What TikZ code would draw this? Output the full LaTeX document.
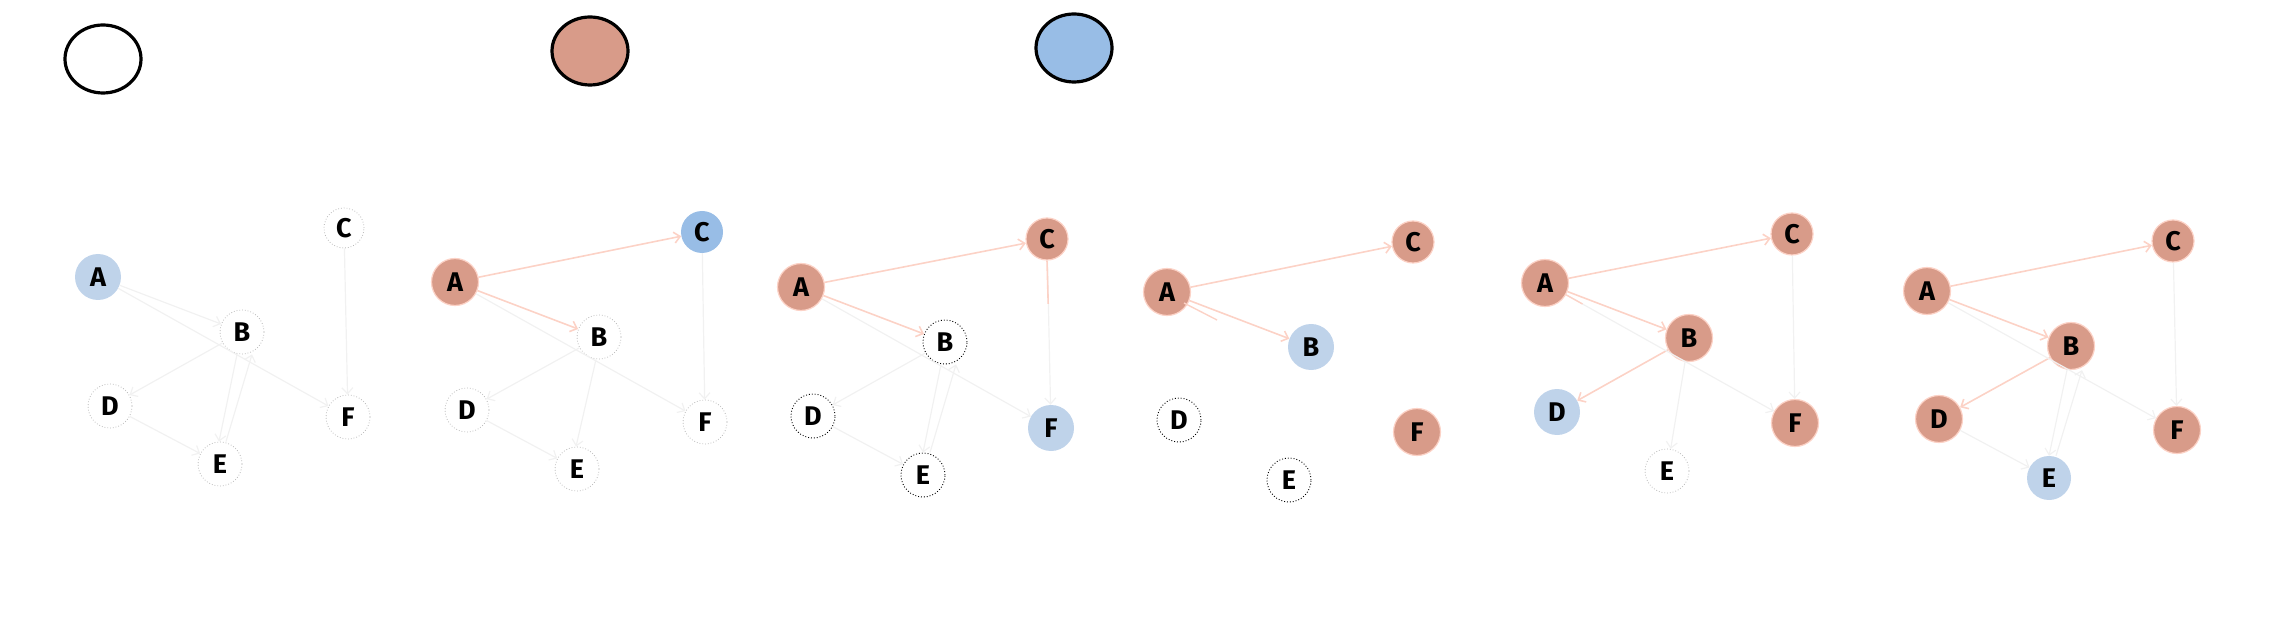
\documentclass[tikz,border=0pt]{standalone}
\usepackage{fontspec}
\setmainfont{Fira Sans}
\usetikzlibrary{arrows.meta,shapes.geometric,calc}
\definecolor{pinkfill}{HTML}{D89B89}
\definecolor{pinkline}{HTML}{FCD2C6}
\definecolor{bluefill}{HTML}{98BDE6}
\definecolor{lblue}{HTML}{BFD3EA}
\definecolor{faint}{HTML}{F1F1F1}
\tikzset{
  nd/.style={circle,minimum size=44pt,inner sep=0pt,font=\fontsize{27}{28}\selectfont\bfseries},
  wn/.style={nd,draw=gray!55,dotted,line width=0.8pt},
  wnb/.style={nd,draw=black,dotted,line width=0.9pt},
  pn/.style={nd,fill=pinkfill,draw=pinkline,line width=1.2pt,minimum size=47pt},
  bn/.style={nd,fill=lblue,minimum size=46pt},
  cn/.style={nd,fill=bluefill,minimum size=42pt},
  arr/.style={-{Straight Barb[length=6pt,width=11pt]}},
  pe/.style={arr,draw=pinkline,line width=1.6pt},
  fe/.style={arr,draw=faint,line width=1.2pt},
  legend/.style={ellipse,draw=black,line width=3.2pt,minimum width=76pt,minimum height=68pt,inner sep=0pt}
}
\begin{document}
\begin{tikzpicture}[x=1pt,y=-1pt]
\path[use as bounding box] (0,0) rectangle (2290,617);
% legend
\node[legend,fill=white] (L1) at (103,59) {};
\node[legend,fill=pinkfill] (L2) at (590,51) {};
\node[legend,fill=bluefill] (L3) at (1074,48) {};

% panel 1
\node[bn] (a1) at (98,277) {A};
\node[wn] (b1) at (242,332) {B};
\node[wn,minimum size=40pt] (c1) at (344,228) {C};
\node[wn] (d1) at (110,406) {D};
\node[wn] (e1) at (220,464) {E};
\node[wn] (f1) at (348,417) {F};
\draw[fe] (a1) -- (b1);
\draw[fe] (a1) -- (f1);
\draw[fe] (b1) -- (d1);
\draw[fe] ([xshift=-5pt]b1.south) -- ([xshift=-1pt]e1.north);
\draw[fe] ([xshift=6pt]e1.north) -- ([xshift=10pt]b1.south);
\draw[fe] (d1) -- (e1);
\draw[fe] (c1) -- (f1);

% panel 2
\node[pn] (a2) at (455,282) {A};
\node[wn] (b2) at (599,337) {B};
\node[cn] (c2) at (702,232) {C};
\node[wn] (d2) at (467,410) {D};
\node[wn] (e2) at (577,469) {E};
\node[wn] (f2) at (705,422) {F};
\draw[pe] (a2) -- (c2);
\draw[pe] (a2) -- (b2);
\draw[fe] (a2) -- (f2);
\draw[fe] (b2) -- (d2);
\draw[fe] ([xshift=-3pt]b2.south) -- ([xshift=-1pt]e2.north);
\draw[fe] (d2) -- (e2);
\draw[fe] (c2) -- (f2);

% panel 3
\node[pn] (a3) at (801,287) {A};
\node[wnb] (b3) at (945,342) {B};
\node[pn,minimum size=42pt] (c3) at (1047,239) {C};
\node[wnb] (d3) at (813,416) {D};
\node[wnb] (e3) at (923,475) {E};
\node[bn] (f3) at (1051,428) {F};
\draw[pe] (a3) -- (c3);
\draw[pe] (a3) -- (b3);
\draw[fe] (c3) -- (f3);
\draw[pinkline,line width=1.6pt] (c3.south) -- ($(c3.south)!0.3!(f3.north)$);
\draw[fe] (a3) -- (f3);
\draw[fe] (b3) -- (d3);
\draw[fe] ([xshift=-4pt]b3.south) -- ([xshift=0pt]e3.north);
\draw[fe] ([xshift=7pt]e3.north) -- ([xshift=11pt]b3.south);
\draw[fe] (d3) -- (e3);

% panel 4
\node[pn] (a4) at (1167,292) {A};
\node[bn] (b4) at (1311,347) {B};
\node[pn,minimum size=42pt] (c4) at (1413,242) {C};
\node[wnb] (d4) at (1179,420) {D};
\node[wnb] (e4) at (1289,480) {E};
\node[pn] (f4) at (1417,432) {F};
\draw[pe] (a4) -- (c4);
\draw[pe] (a4) -- (b4);
\draw[draw=pinkline,line width=1.4pt] ([yshift=6pt]a4.south east) -- ($(a4)!0.2!(f4)$);

% panel 5
\node[pn] (a5) at (1545,283) {A};
\node[pn] (b5) at (1689,338) {B};
\node[pn,minimum size=42pt] (c5) at (1792,234) {C};
\node[bn] (d5) at (1557,412) {D};
\node[wn] (e5) at (1667,471) {E};
\node[pn] (f5) at (1795,423) {F};
\draw[pe] (a5) -- (c5);
\draw[pe] (a5) -- (b5);
\draw[pe] (b5) -- (d5);
\draw[fe] (c5) -- (f5);
\draw[fe] (a5) -- (f5);
\draw[draw=pinkline,line width=1.4pt] (a5) -- ($(a5)!0.15!(f5)$);
\draw[fe] (b5) -- (e5);

% panel 6
\node[pn] (a6) at (1927,291) {A};
\node[pn] (b6) at (2071,346) {B};
\node[pn,minimum size=42pt] (c6) at (2173,241) {C};
\node[pn] (d6) at (1939,419) {D};
\node[bn,minimum size=44pt] (e6) at (2049,478) {E};
\node[pn] (f6) at (2177,430) {F};
\draw[pe] (a6) -- (c6);
\draw[pe] (a6) -- (b6);
\draw[pe] (b6) -- (d6);
\draw[fe] (a6) -- (f6);
\draw[fe] (c6) -- (f6);
\draw[fe] ([xshift=-4pt]b6.south) -- ([xshift=0pt]e6.north);
\draw[fe] ([xshift=7pt]e6.north) -- ([xshift=11pt]b6.south);
\draw[fe] (d6) -- (e6);
\end{tikzpicture}
\end{document}
